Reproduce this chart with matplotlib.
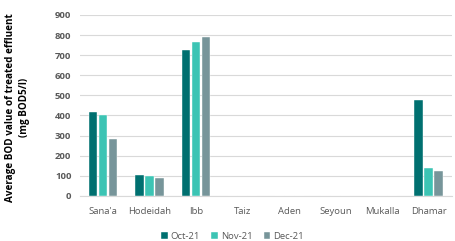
import matplotlib
matplotlib.use("Agg")
import matplotlib.pyplot as plt
import numpy as np

categories = ["Sana'a", "Hodeidah", "Ibb", "Taiz", "Aden", "Seyoun", "Mukalla", "Dhamar"]
oct21 = [415, 102, 725, 0, 0, 0, 0, 475]
nov21 = [400, 98, 765, 0, 0, 0, 0, 140]
dec21 = [285, 90, 790, 0, 0, 0, 0, 122]
series_names = ["Oct-21", "Nov-21", "Dec-21"]
yticks = [0, 100, 200, 300, 400, 500, 600, 700, 800, 900]

colors = ["#007070", "#3cc4b4", "#77959a"]

plt.rcParams['font.family'] = ['Open Sans', 'DejaVu Sans']

fig = plt.figure(figsize=(4.56, 2.41), dpi=100)
ax = fig.add_axes([0.175, 0.187, 0.816, 0.751])

x = np.arange(len(categories))
w = 0.19
step = 0.215
for i, (vals, c, name) in enumerate(zip([oct21, nov21, dec21], colors, series_names)):
    ax.bar(x + (i - 1) * step, vals, width=w, color=c, label=name, zorder=3,
           edgecolor='white', linewidth=0.3)

ax.set_xlim(-0.5, len(categories) - 0.5)
ax.set_ylim(0, 900)
ax.set_yticks(yticks)
ax.set_yticklabels([str(t) for t in yticks], fontsize=6.8, fontweight='bold', color='#595959')
ax.set_xticks(x)
ax.set_xticklabels(categories, fontsize=6.8, color='#595959')
ax.tick_params(axis='both', length=0, pad=6)
ax.tick_params(axis='x', pad=8)
ax.grid(axis='y', color='#d9d9d9', linewidth=0.8, zorder=0)
for s in ['top', 'right', 'left']:
    ax.spines[s].set_visible(False)
ax.spines['bottom'].set_color('#d9d9d9')
ax.spines['bottom'].set_linewidth(0.8)

ax.set_ylabel("Average BOD value of treated effluent\n(mg BOD5/l)", fontsize=7.1,
              fontweight='bold', color='black', linespacing=1.35)
ax.yaxis.set_label_coords(-0.135, 0.49)

fig.legend(loc='lower center', bbox_to_anchor=(0.51, -0.035), ncol=3, fontsize=6.8,
           frameon=False, handlelength=0.7, handleheight=0.7, handletextpad=0.3,
           columnspacing=1.2, labelcolor='#595959')

fig.savefig("out.png", dpi=100)
